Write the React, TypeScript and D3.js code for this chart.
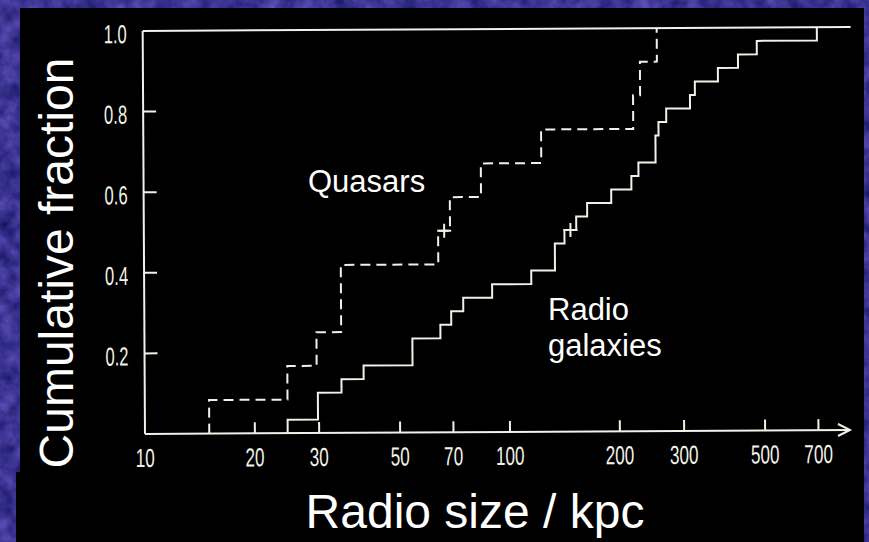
import React from "react";
import * as d3 from "d3";

// Projected linear sizes (kpc) of the two samples
const QUASAR_SIZES = [15, 24.6, 29.6, 34.6, 34.6, 64, 69, 84, 123, 220, 230, 256];
const GALAXY_SIZES = [
  24.6, 29.8, 29.8, 34.6, 39.8, 54.2, 54.2, 64.7, 69.3, 74.8, 89.8, 115, 133.6, 133.6, 142,
  153, 164, 191, 217, 227, 253, 253, 258, 271, 315, 325, 376, 427, 481, 703,
];

const X_TICK_VALUES = [20, 30, 50, 70, 100, 200, 300, 500, 700];
const X_LABEL_VALUES = [10, 20, 30, 50, 70, 100, 200, 300, 500, 700];
const Y_TICK_VALUES = [0.2, 0.4, 0.6, 0.8];
const Y_LABEL_VALUES = [0.2, 0.4, 0.6, 0.8, 1.0];

const W = 869;
const H = 542;
const INK = "#f1f1e8";
const TICK_FONT = "'Liberation Sans', Arial, sans-serif";
const TITLE_FONT = "'Liberation Sans', Arial, Helvetica, sans-serif";

const x = d3.scaleLog().domain([10, 1000]).range([145, 875]);
const y = d3.scaleLinear().domain([0, 1]).range([434, 31]);

type Pt = [number, number];

function cumulative(values: number[]): Pt[] {
  const s = [...values].sort(d3.ascending);
  const n = s.length;
  return [[s[0], 0] as Pt, ...s.map((v, i) => [v, (i + 1) / n] as Pt)];
}

const stepLine = d3
  .line<Pt>()
  .x((d) => x(d[0]))
  .y((d) => y(d[1]))
  .curve(d3.curveStepAfter);

function MedianMark({ value }: { value: number }) {
  const cx = x(value);
  const cy = y(0.5);
  const r = 7;
  return (
    <g stroke={INK} strokeWidth={2}>
      <line x1={cx} x2={cx} y1={cy - r} y2={cy + r} />
      <line x1={cx - r} x2={cx + r} y1={cy} y2={cy} />
    </g>
  );
}

export default function App() {
  const quasarPath = stepLine(cumulative(QUASAR_SIZES)) || "";
  const galaxyPath = stepLine(cumulative(GALAXY_SIZES)) || "";
  const x0 = x(10);
  const y0 = y(0);
  const axisEnd = 850;

  return (
    <svg
      width={W}
      height={H}
      viewBox={`0 0 ${W} ${H}`}
      style={{ position: "absolute", left: 0, top: 0, display: "block" }}
    >
      <defs>
        <filter
          id="mottle"
          filterUnits="userSpaceOnUse"
          x={0}
          y={0}
          width={W}
          height={H}
          colorInterpolationFilters="sRGB"
        >
          <feTurbulence type="fractalNoise" baseFrequency="0.06" numOctaves={4} seed={7} result="noise" />
          <feColorMatrix
            in="noise"
            type="matrix"
            values="0.4 0 0 0 0.03  0.3 0 0 0 0.05  0.45 0 0 0 0.34  0 0 0 0 1"
          />
        </filter>
      </defs>

      {/* textured backdrop and dark panel */}
      <rect x={0} y={0} width={W} height={H} fill="#3b3588" />
      <rect x={0} y={0} width={W} height={H} filter="url(#mottle)" />
      <rect x={20} y={8} width={844} height={H - 8} fill="#000" />
      <rect x={16} y={472} width={10} height={H - 472} fill="#000" />

      <g transform={`rotate(-0.33 ${x0} ${y0})`}>
        {/* axes */}
        <g stroke={INK} strokeWidth={2} fill="none">
          <line x1={x0} x2={x0} y1={y0} y2={y(1)} />
          <line x1={x0} x2={853} y1={y(1)} y2={y(1)} />
          <line x1={x0} x2={axisEnd} y1={y0} y2={y0} />
          <polyline points={`${axisEnd - 12},${y0 - 6} ${axisEnd},${y0} ${axisEnd - 12},${y0 + 6}`} />
          {X_TICK_VALUES.map((v) => (
            <line key={v} x1={x(v)} x2={x(v)} y1={y0} y2={y0 - 11} />
          ))}
          {Y_TICK_VALUES.map((v) => (
            <line key={v} x1={x0} x2={x0 + 13} y1={y(v)} y2={y(v)} />
          ))}
        </g>

        {/* tick labels */}
        <g fill={INK} fontFamily={TICK_FONT} fontSize={26}>
          {X_LABEL_VALUES.map((v) => (
            <text key={v} transform={`translate(${x(v)},467) scale(0.66,1)`} textAnchor="middle">
              {String(v)}
            </text>
          ))}
          {Y_LABEL_VALUES.map((v) => (
            <text key={v} transform={`translate(129,${y(v) + 12}) scale(0.64,1)`} textAnchor="end">
              {v.toFixed(1)}
            </text>
          ))}
        </g>

        {/* cumulative distributions */}
        <path d={galaxyPath} fill="none" stroke={INK} strokeWidth={2} />
        <path d={quasarPath} fill="none" stroke={INK} strokeWidth={2} strokeDasharray="10 6" />
        <MedianMark value={d3.median(QUASAR_SIZES) as number} />
        <MedianMark value={d3.median(GALAXY_SIZES) as number} />
      </g>

      {/* annotations */}
      <g fill="#fff" fontFamily={TITLE_FONT}>
        <text x={308} y={192} fontSize={31}>
          Quasars
        </text>
        <text x={548} y={320} fontSize={31}>
          Radio
        </text>
        <text x={548} y={356} fontSize={31}>
          galaxies
        </text>
        <text x={475} y={528} fontSize={48} textAnchor="middle">
          Radio size / kpc
        </text>
        <text transform="translate(73,263) rotate(-90)" fontSize={48} textAnchor="middle">
          Cumulative fraction
        </text>
      </g>
    </svg>
  );
}
